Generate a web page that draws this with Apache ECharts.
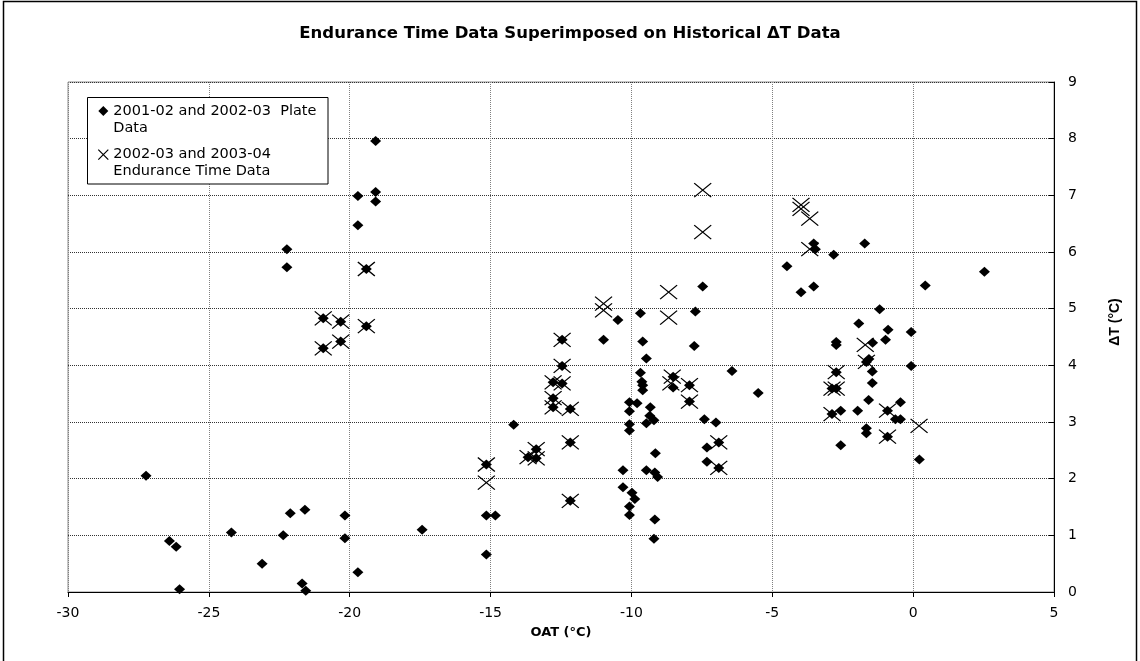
<!DOCTYPE html>
<html>
<head>
<meta charset="utf-8">
<script src="https://cdn.jsdelivr.net/npm/echarts@6/dist/echarts.min.js"></script>
<style>
  html, body { margin: 0; padding: 0; background: #fff; }
  #chart { width: 1140px; height: 661px; }
</style>
</head>
<body>
<div id="chart"></div>
<script>
// ---- Data ----
const chartTitle = 'Endurance Time Data Superimposed on Historical \u0394T Data';
const xAxisTitle = 'OAT (\u00B0C)';
const yAxisTitle = '\u0394T (\u00B0C)';
const plateName = '2001-02 and 2002-03  Plate\nData';
const enduranceName = '2002-03 and 2003-04\nEndurance Time Data';

// Series 1: 2001-02 and 2002-03 Plate Data (diamonds)
const plateOAT = [
  -19.08, -19.71, -19.08, -19.08, -19.71, -22.23, -22.23, -19.41, -20.94, -20.32,
  -19.41, -20.32, -20.94, -27.23, -22.11, -21.59, -20.17, -24.20, -22.36, -20.17,
  -26.40, -26.16, -23.11, -19.71, -21.69, -21.56, -26.04, -15.15, -15.15, -14.83,
  -15.15, -17.43, -14.18, -13.38, -13.67, -13.38, -12.46, -12.46, -12.78, -12.46,
  -12.78, -12.78, -12.17, -12.17, -12.17, -10.48, -10.99, -9.68, -9.60, -9.47,
  -9.68, -9.63, -9.60, -9.60, -10.07, -9.80, -10.07, -9.33, -9.35, -9.20,
  -9.47, -10.07, -10.07, -9.15, -10.30, -9.47, -9.17, -9.07, -10.30, -9.98,
  -9.88, -10.07, -10.07, -9.17, -9.20, -7.47, -7.73, -7.77, -6.43, -8.52,
  -8.52, -7.94, -7.94, -7.41, -7.00, -6.90, -7.32, -7.32, -6.90, -5.50,
  -3.53, -3.47, -1.72, -2.82, -4.48, 2.53, 0.43, -3.53, -3.98, -1.19,
  -1.93, -0.89, -0.07, -0.98, -2.73, -2.73, -1.44, -1.66, -1.57, -0.07,
  -2.73, -1.45, -1.45, -2.88, -2.73, -1.58, -0.45, -0.91, -2.57, -1.97,
  -2.88, -0.63, -0.45, -1.66, -1.66, -0.91, -2.57, 0.22
];
const plateDT = [
  7.96, 6.99, 7.06, 6.89, 6.47, 6.05, 5.73, 5.70, 4.83, 4.77,
  4.69, 4.42, 4.30, 2.05, 1.39, 1.45, 1.35, 1.05, 1.00, 0.95,
  0.90, 0.80, 0.50, 0.35, 0.15, 0.02, 0.05, 2.25, 1.35, 1.35,
  0.66, 1.10, 2.95, 2.52, 2.38, 2.36, 4.45, 3.99, 3.70, 3.68,
  3.42, 3.26, 3.23, 2.64, 1.61, 4.80, 4.45, 4.92, 4.42, 4.12,
  3.87, 3.71, 3.65, 3.56, 3.35, 3.33, 3.19, 3.26, 3.11, 3.03,
  2.98, 2.96, 2.85, 2.45, 2.15, 2.15, 2.11, 2.03, 1.85, 1.75,
  1.64, 1.51, 1.36, 1.28, 0.94, 5.39, 4.95, 4.34, 3.90, 3.80,
  3.61, 3.65, 3.36, 3.05, 2.99, 2.64, 2.55, 2.30, 2.19, 3.51,
  6.15, 6.05, 6.15, 5.95, 5.75, 5.65, 5.41, 5.39, 5.29, 4.99,
  4.74, 4.63, 4.59, 4.45, 4.41, 4.36, 4.40, 4.06, 4.11, 3.99,
  3.88, 3.89, 3.69, 3.59, 3.59, 3.39, 3.35, 3.20, 3.20, 3.20,
  3.14, 3.05, 3.05, 2.89, 2.80, 2.74, 2.59, 2.34
];

// Series 2: 2002-03 and 2003-04 Endurance Time Data (crosses)
const enduranceOAT = [
  -19.41, -20.94, -20.32, -19.41, -20.32, -20.94, -15.15, -15.15, -13.38, -13.67,
  -13.38, -12.46, -12.46, -12.78, -12.46, -12.78, -12.78, -12.17, -12.17, -12.17,
  -10.99, -10.99, -8.68, -8.68, -7.47, -7.47, -8.55, -8.60, -7.94, -7.94,
  -6.90, -6.90, -3.98, -3.98, -3.67, -3.67, -1.70, -1.66, -2.73, -2.88,
  -2.73, -0.91, -2.88, 0.21, -0.91
];
const enduranceDT = [
  5.70, 4.83, 4.77, 4.69, 4.42, 4.30, 2.25, 1.93, 2.52, 2.38,
  2.36, 4.45, 3.99, 3.70, 3.68, 3.42, 3.26, 3.23, 2.64, 1.61,
  5.09, 4.97, 5.29, 4.84, 7.09, 6.35, 3.80, 3.68, 3.65, 3.36,
  2.64, 2.19, 6.83, 6.76, 6.59, 6.05, 4.36, 4.06, 3.88, 3.59,
  3.59, 3.20, 3.14, 2.93, 2.74
];

// ---- Build chart ----
const zip = (xs, ys) => xs.map((x, i) => [x, ys[i]]);
const FONT = 'DejaVu Sans';
const crossPath = 'path://M0,0L10,10M10,0L0,10';

const chart = echarts.init(document.getElementById('chart'), null, { renderer: 'canvas' });

chart.setOption({
  backgroundColor: '#ffffff',
  animation: false,
  title: {
    text: chartTitle,
    left: 'center',
    top: 20,
    textStyle: { fontFamily: FONT, fontWeight: 'bold', fontSize: 16.5, color: '#000' }
  },
  grid: {
    left: 68, right: 86, top: 82, bottom: 69,
    show: true, borderColor: '#8c8c8c', borderWidth: 1, backgroundColor: 'transparent'
  },
  legend: {
    orient: 'vertical',
    left: 97.7,
    top: 85.5,
    z: 20,
    itemWidth: 10,
    itemHeight: 10,
    itemGap: -7.4,
    padding: 0,
    selectedMode: false,
    formatter: function (name) { return ' \n' + name; },
    textStyle: {
      fontFamily: FONT, fontSize: 14.5, color: '#000', lineHeight: 17
    },
    data: [
      { name: plateName, icon: 'diamond', itemStyle: { color: '#000', opacity: 1 } },
      { name: enduranceName, icon: crossPath,
        itemStyle: { color: 'transparent', borderColor: '#000', borderWidth: 1.2, opacity: 1 } }
    ]
  },
  xAxis: {
    type: 'value',
    min: -30, max: 5, interval: 5,
    name: xAxisTitle,
    nameLocation: 'middle',
    nameGap: 34,
    nameTextStyle: { fontFamily: FONT, fontWeight: 'bold', fontSize: 13, color: '#000' },
    axisLine: { show: true, onZero: false, lineStyle: { color: '#000', width: 1 } },
    axisTick: { show: true, inside: false, length: 5, lineStyle: { color: '#000' } },
    axisLabel: { fontFamily: FONT, fontSize: 14, color: '#000', margin: 14 },
    splitLine: { show: true, lineStyle: { color: '#808080', type: 'dotted', width: 1 } }
  },
  yAxis: {
    type: 'value',
    position: 'right',
    min: 0, max: 9, interval: 1,
    axisLine: { show: true, onZero: false, lineStyle: { color: '#000', width: 1 } },
    axisTick: { show: true, inside: true, length: 5, lineStyle: { color: '#000' } },
    axisLabel: { fontFamily: FONT, fontSize: 14, color: '#000', margin: 14 },
    splitLine: { show: true, lineStyle: { color: '#333', type: 'dotted', width: 1 } }
  },
  graphic: [
    { type: 'polyline', z: 1, silent: true,
      shape: { points: [[3.5, 700], [3.5, 1.5], [1136.5, 1.5], [1136.5, 700]] },
      style: { stroke: '#000', lineWidth: 1.5, fill: null } },
    { type: 'rect', z: 10, silent: true,
      shape: { x: 87.5, y: 97.5, width: 240.5, height: 86.5 },
      style: { fill: '#fff', stroke: '#000', lineWidth: 1 } },
    { type: 'text', z: 10, silent: true,
      x: 1115, y: 322, rotation: Math.PI / 2,
      style: { text: yAxisTitle, fontFamily: 'Liberation Sans', fontWeight: 'bold', fontSize: 14,
               fill: '#000', align: 'center', verticalAlign: 'middle' } }
  ],
  series: [
    {
      name: plateName,
      type: 'scatter',
      symbol: 'diamond',
      symbolSize: [11, 10],
      itemStyle: { color: '#000', opacity: 1 },
      data: zip(plateOAT, plateDT),
      z: 3
    },
    {
      name: enduranceName,
      type: 'scatter',
      symbol: crossPath,
      symbolSize: [17, 14],
      itemStyle: { color: 'transparent', borderColor: '#000', borderWidth: 1.2, opacity: 1 },
      data: zip(enduranceOAT, enduranceDT),
      z: 4
    }
  ]
});
</script>
</body>
</html>
